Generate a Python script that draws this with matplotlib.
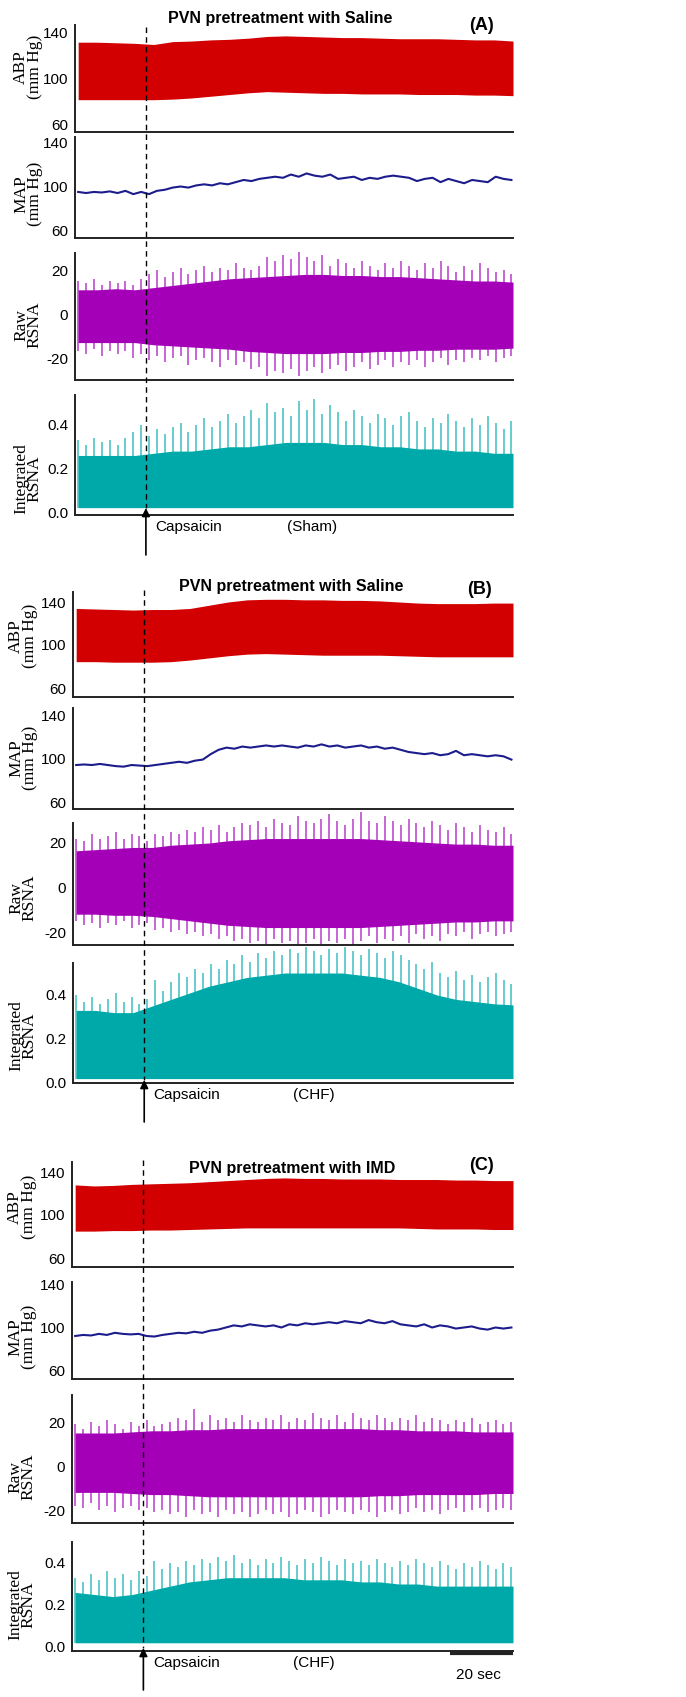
import numpy as np
import matplotlib
matplotlib.use("Agg")
import matplotlib.pyplot as plt
from matplotlib.lines import Line2D
from matplotlib.patches import FancyArrowPatch
from matplotlib.transforms import blended_transform_factory

W, H = 686, 1697

# time grids in seconds
t_coarse = np.arange(0, 139, 6)
t_fine = np.arange(0, 138, 2.5)
T_CAPS = 21.5

# ---------------- panel A (Sham, saline) ----------------
a_abp_hi = [132, 132, 131.5, 131, 130, 132.5, 133, 134, 134.5, 135.5, 137, 137.5,
            137, 136.5, 136, 136, 135.5, 135, 135, 135, 134.5, 134, 134, 133]
a_abp_lo = [82, 82, 82, 82, 82, 82.5, 83.5, 85, 86.5, 88, 89, 88.5,
            88, 87.5, 87.5, 87, 87, 87, 86.5, 86.5, 86.5, 86, 86, 85.5]
a_map = [95, 94, 95, 94.5, 95.5, 94, 96, 93, 95, 93, 96, 97, 99, 100, 99, 101,
         102, 101, 103, 102, 104, 106, 105, 107, 108, 109, 108, 111, 109, 112, 110, 109,
         111, 107, 108, 109, 106, 108, 107, 109, 110, 109, 108, 105, 107, 108, 104, 107,
         105, 103, 106, 105, 104, 109, 107, 106]
a_raw_core_hi = [11, 11, 11.5, 11, 12, 13, 14, 15, 16, 16.5, 17, 17.5,
                 18, 18, 17.5, 17.5, 17, 17, 16.5, 16, 15.5, 15, 15, 14.5]
a_raw_core_lo = [-13, -13, -13, -13, -14, -14.5, -15, -15.5, -16, -17, -17.5, -18,
                 -18, -18, -17.5, -17.5, -17, -17, -16.5, -16.5, -16, -16, -16, -15.5]
a_raw_spk_hi = [15, 14, 16, 13, 15, 14, 15, 13, 16, 18, 20, 17, 19, 21, 18, 20,
                22, 19, 21, 20, 23, 21, 20, 22, 26, 24, 27, 25, 28, 26, 24, 27,
                22, 25, 23, 21, 24, 22, 20, 23, 21, 24, 22, 20, 23, 21, 24, 22,
                19, 22, 20, 23, 21, 19, 20, 18]
a_raw_spk_lo = [-17, -18, -16, -19, -17, -18, -17, -20, -18, -21, -19, -22, -20, -19, -23, -21,
                -20, -22, -24, -21, -23, -22, -25, -24, -28, -26, -27, -25, -28, -26, -24, -27,
                -25, -23, -26, -24, -22, -25, -23, -21, -24, -22, -23, -21, -24, -22, -20, -23,
                -21, -22, -20, -21, -19, -22, -20, -19]
a_int_core = [0.26, 0.26, 0.26, 0.26, 0.27, 0.28, 0.28, 0.29, 0.30, 0.30, 0.31, 0.32,
              0.32, 0.32, 0.31, 0.31, 0.30, 0.30, 0.29, 0.29, 0.28, 0.28, 0.27, 0.27]
a_int_spk = [0.33, 0.31, 0.34, 0.32, 0.33, 0.31, 0.34, 0.37, 0.40, 0.35, 0.38, 0.36, 0.39, 0.41,
             0.37, 0.40, 0.43, 0.39, 0.42, 0.45, 0.41, 0.44, 0.47, 0.43, 0.50, 0.46, 0.48, 0.44,
             0.51, 0.47, 0.52, 0.45, 0.49, 0.46, 0.42, 0.47, 0.44, 0.41, 0.45, 0.43, 0.40, 0.44,
             0.46, 0.42, 0.39, 0.43, 0.41, 0.45, 0.42, 0.39, 0.43, 0.40, 0.44, 0.41, 0.38, 0.42]

# ---------------- panel B (CHF, saline) ----------------
b_abp_hi = [134, 133.5, 133, 132.5, 133, 133, 134, 137, 140, 142, 142.5, 142.5,
            142, 142, 141.5, 141.5, 141, 140, 139, 138.5, 138.5, 138.5, 139, 139]
b_abp_lo = [84.5, 84.5, 84, 84, 84, 84.5, 86, 88, 90, 91.5, 92, 91.5,
            91, 90.5, 90.5, 90.5, 90.5, 90, 89.5, 89, 89, 89, 89, 89]
b_map = [94, 94.5, 94, 95, 94, 93, 92.5, 94, 93.5, 93, 94, 95, 96, 97, 96, 98,
         99, 104, 108, 110, 109, 111, 110, 111, 112, 111, 112, 111, 110, 112, 111, 113,
         111, 112, 110, 111, 112, 110, 111, 109, 110, 108, 106, 105, 104, 105, 103, 104,
         107, 103, 104, 103, 102, 103, 102, 99]
b_raw_core_hi = [16.5, 17, 17.5, 18, 18, 19, 19.5, 20, 21, 21.5, 22, 22,
                 22, 22, 22, 22, 21.5, 21, 20.5, 20, 19.5, 19.5, 19, 19]
b_raw_core_lo = [-12, -12, -12.5, -12.5, -13, -14, -15, -16, -17, -17.5, -18, -18,
                 -18, -18, -18, -18, -17.5, -17, -16.5, -16, -15.5, -15.5, -15, -15]
b_raw_spk_hi = [22, 21, 24, 22, 23, 25, 22, 24, 23, 21, 24, 23, 25, 24, 26, 25,
                27, 26, 28, 25, 27, 29, 28, 30, 27, 31, 29, 28, 32, 30, 29, 31,
                33, 30, 28, 31, 34, 30, 29, 32, 30, 28, 31, 29, 27, 30, 28, 26,
                29, 27, 25, 28, 26, 25, 27, 24]
b_raw_spk_lo = [-15, -17, -16, -18, -16, -17, -15, -18, -17, -16, -19, -18, -20, -19, -21, -20,
                -22, -21, -23, -22, -24, -23, -25, -24, -26, -23, -25, -24, -26, -25, -23, -26,
                -24, -25, -23, -26, -24, -22, -25, -23, -24, -22, -25, -21, -23, -22, -24, -21,
                -22, -20, -23, -21, -20, -22, -21, -20]
b_int_core = [0.33, 0.33, 0.32, 0.32, 0.35, 0.38, 0.41, 0.44, 0.46, 0.48, 0.49, 0.50,
              0.50, 0.50, 0.50, 0.49, 0.48, 0.46, 0.43, 0.40, 0.38, 0.37, 0.36, 0.355]
b_int_spk = [0.40, 0.37, 0.39, 0.36, 0.38, 0.41, 0.37, 0.39, 0.36, 0.38, 0.47, 0.42, 0.46, 0.50,
             0.48, 0.52, 0.50, 0.54, 0.52, 0.56, 0.54, 0.58, 0.55, 0.59, 0.57, 0.60, 0.58, 0.61,
             0.59, 0.62, 0.60, 0.58, 0.61, 0.59, 0.62, 0.60, 0.58, 0.61, 0.59, 0.57, 0.60, 0.58,
             0.56, 0.54, 0.52, 0.55, 0.50, 0.48, 0.51, 0.47, 0.49, 0.46, 0.48, 0.50, 0.47, 0.45]

# ---------------- panel C (CHF, IMD) ----------------
c_abp_hi = [128, 127, 127.5, 128.5, 129, 129.5, 130, 131, 132, 133, 134, 134.5,
            134, 134, 133.5, 133.5, 133.5, 133, 133, 133, 132.5, 132.5, 132, 132]
c_abp_lo = [85, 85, 85.5, 85.5, 86, 86, 86.5, 87, 87.5, 88, 88, 88,
            88, 88, 88, 88, 88, 88, 87.5, 87, 87, 87, 86.5, 86.5]
c_map = [92, 93, 92.5, 94, 93, 95, 94, 93.5, 94, 92, 91.5, 93, 94, 95, 94.5, 96,
         95, 97, 98, 100, 102, 101, 103, 102, 101, 102, 100, 103, 102, 104, 103, 104,
         105, 104, 106, 105, 104, 107, 105, 104, 106, 103, 102, 101, 103, 100, 102, 101,
         99, 100, 101, 99, 98, 100, 99, 100]
c_raw_core_hi = [15, 15, 15, 15.5, 16, 16, 16.5, 16.5, 17, 17, 17, 17,
                 17, 17, 17, 17, 16.5, 16.5, 16, 16, 16, 15.5, 15.5, 15.5]
c_raw_core_lo = [-12, -12, -12, -12.5, -13, -13, -13.5, -14, -14, -14, -14, -14,
                 -14, -14, -14, -14, -13.5, -13.5, -13, -13, -13, -13, -12.5, -12.5]
c_raw_spk_hi = [19, 17, 20, 18, 21, 19, 17, 20, 18, 21, 18, 19, 20, 22, 21, 26,
                20, 23, 21, 22, 20, 23, 21, 20, 22, 21, 23, 20, 22, 21, 24, 22,
                21, 23, 20, 24, 22, 21, 23, 22, 20, 22, 21, 23, 20, 22, 21, 19,
                21, 20, 22, 19, 20, 21, 19, 20]
c_raw_spk_lo = [-18, -19, -17, -20, -18, -21, -19, -18, -20, -19, -21, -20, -22, -21, -23, -20,
                -22, -21, -23, -20, -22, -21, -23, -22, -20, -22, -21, -23, -22, -20, -21, -23,
                -22, -20, -21, -22, -20, -21, -23, -21, -20, -22, -21, -19, -21, -20, -22, -20,
                -19, -21, -20, -19, -21, -20, -19, -20]
c_int_core = [0.26, 0.25, 0.24, 0.25, 0.27, 0.29, 0.31, 0.32, 0.33, 0.33, 0.33, 0.33,
              0.32, 0.32, 0.32, 0.31, 0.31, 0.30, 0.30, 0.29, 0.29, 0.29, 0.29, 0.29]
c_int_spk = [0.33, 0.31, 0.35, 0.32, 0.36, 0.33, 0.35, 0.32, 0.36, 0.34, 0.41, 0.37, 0.40, 0.38,
             0.41, 0.39, 0.42, 0.40, 0.43, 0.41, 0.44, 0.40, 0.42, 0.39, 0.42, 0.40, 0.43, 0.41,
             0.39, 0.42, 0.40, 0.43, 0.41, 0.39, 0.42, 0.40, 0.41, 0.39, 0.42, 0.40, 0.38, 0.41,
             0.39, 0.42, 0.40, 0.38, 0.41, 0.39, 0.37, 0.40, 0.38, 0.41, 0.39, 0.37, 0.40, 0.38]

titles = ["PVN pretreatment with Saline", "PVN pretreatment with Saline", "PVN pretreatment with IMD"]
letters = ["(A)", "(B)", "(C)"]
groups = ["(Sham)", "(CHF)", "(CHF)"]

RED = "#d20000"
NAVY = "#1c1c8c"
PURPLE = "#a400b8"
PURPLE_LT = "#c35ad2"
TEAL = "#00a9a9"
TEAL_LT = "#5cc9c9"

SANS = ["Liberation Sans", "DejaVu Sans"]
SERIF = ["Liberation Serif", "DejaVu Serif"]


def fx(p):
    return p / W


def fy(p):
    return 1 - p / H


def trace_axes(fig, left, top, bot, v1, p1, v2, p2, ticks, ticklabels):
    ax = fig.add_axes([fx(left), fy(bot), fx(513 - left), (bot - top) / H])
    scale = (p1 - p2) / (v2 - v1)
    ax.set_ylim(v1 - (bot - p1) / scale, v1 + (p1 - top) / scale)
    ax.set_xlim(-1, 138)
    for s in ["top", "right"]:
        ax.spines[s].set_visible(False)
    for s in ["left", "bottom"]:
        ax.spines[s].set_linewidth(1.4)
        ax.spines[s].set_color("#222222")
        ax.spines[s].set_zorder(5)
    ax.set_xticks([])
    ax.set_yticks(ticks)
    ax.set_yticklabels(ticklabels, family=SANS, fontsize=11)
    ax.tick_params(axis="y", length=0, pad=5)
    ax.patch.set_alpha(0)
    return ax


# pixel layout of each panel
layout = [
    dict(left=75, rows=[(25, 132, 60, 125, 140, 33), (137, 238, 60, 230, 140, 143),
                        (253, 380, -20, 358, 20, 270), (395, 515, 0.0, 512, 0.4, 425)],
         lab_x=28, lab_y=[67, 194, 325, 479], title=(280, 18), letter=(482, 25),
         dash=(27, 508), arrow_tail=555, cap_y=527, cap_x=155, grp_x=287),
    dict(left=73, rows=[(592, 697, 60, 688, 140, 602), (708, 809, 60, 802, 140, 715),
                        (823, 945, -20, 932, 20, 843), (963, 1083, 0.0, 1083, 0.4, 995)],
         lab_x=23, lab_y=[636, 758, 898, 1036], title=(291, 587), letter=(480, 590),
         dash=(590, 1080), arrow_tail=1122, cap_y=1095, cap_x=153, grp_x=293),
    dict(left=72, rows=[(1162, 1267, 60, 1258, 140, 1172), (1282, 1379, 60, 1370, 140, 1285),
                        (1395, 1523, -20, 1510, 20, 1422), (1542, 1651, 0.0, 1647, 0.4, 1563)],
         lab_x=22, lab_y=[1207, 1337, 1477, 1605], title=(292, 1168), letter=(482, 1165),
         dash=(1160, 1648), arrow_tail=1690, cap_y=1663, cap_x=153, grp_x=293),
]

data = [
    (a_abp_hi, a_abp_lo, a_map, a_raw_core_hi, a_raw_core_lo, a_raw_spk_hi, a_raw_spk_lo, a_int_core, a_int_spk),
    (b_abp_hi, b_abp_lo, b_map, b_raw_core_hi, b_raw_core_lo, b_raw_spk_hi, b_raw_spk_lo, b_int_core, b_int_spk),
    (c_abp_hi, c_abp_lo, c_map, c_raw_core_hi, c_raw_core_lo, c_raw_spk_hi, c_raw_spk_lo, c_int_core, c_int_spk),
]

ylabels = ["ABP\n(mm Hg)", "MAP\n(mm Hg)", "Raw\nRSNA", "Integrated\nRSNA"]
tick_sets = [([60, 100, 140], ["60", "100", "140"]),
             ([60, 100, 140], ["60", "100", "140"]),
             ([-20, 0, 20], ["-20", "0", "20"]),
             ([0.0, 0.2, 0.4], ["0.0", "0.2", "0.4"])]

fig = plt.figure(figsize=(W / 100, H / 100), dpi=100)

for i, (lay, d) in enumerate(zip(layout, data)):
    abp_hi, abp_lo, mp, rc_hi, rc_lo, rs_hi, rs_lo, ic, isp = d
    axes = []
    for r, row in enumerate(lay["rows"]):
        ax = trace_axes(fig, lay["left"], *row, *tick_sets[r])
        axes.append(ax)
        fig.text(fx(lay["lab_x"]), fy(lay["lab_y"][r]), ylabels[r], rotation=90,
                 ha="center", va="center", family=SERIF, fontsize=12.5, linespacing=0.8)
    ax_abp, ax_map, ax_raw, ax_int = axes

    ax_abp.fill_between(t_coarse, abp_lo, abp_hi, color=RED, lw=0)
    ax_map.plot(t_fine, mp, color=NAVY, lw=1.5)

    ax_raw.vlines(t_fine, 0, rs_hi, color=PURPLE_LT, lw=1.3, clip_on=False, zorder=2)
    ax_raw.vlines(t_fine, rs_lo, 0, color=PURPLE_LT, lw=1.3, clip_on=False, zorder=2)
    ax_raw.fill_between(t_coarse, rc_lo, rc_hi, color=PURPLE, lw=0, zorder=3)

    ax_int.vlines(t_fine, 0.02, isp, color=TEAL_LT, lw=1.3, clip_on=False, zorder=2)
    ax_int.fill_between(t_coarse, 0.02, ic, color=TEAL, lw=0, zorder=3)

    # titles
    fig.text(fx(lay["title"][0]), fy(lay["title"][1]), titles[i], ha="center", va="center",
             family=SANS, fontsize=11.5, fontweight="bold")
    fig.text(fx(lay["letter"][0]), fy(lay["letter"][1]), letters[i], ha="center", va="center",
             family=SANS, fontsize=13, fontweight="bold")

    # capsaicin marker
    trans = blended_transform_factory(ax_int.transData, fig.transFigure)
    fig.add_artist(Line2D([T_CAPS, T_CAPS], [fy(lay["dash"][0]), fy(lay["dash"][1])],
                          transform=trans, color="black", lw=1.0, ls=(0, (4, 3))))
    fig.add_artist(FancyArrowPatch((T_CAPS, fy(lay["arrow_tail"])), (T_CAPS, fy(lay["dash"][1])),
                                   transform=trans, arrowstyle="-|>", mutation_scale=12,
                                   color="black", lw=1.2, shrinkA=0, shrinkB=0))
    fig.text(fx(lay["cap_x"]), fy(lay["cap_y"]), "Capsaicin", ha="left", va="center",
             family=SANS, fontsize=11)
    fig.text(fx(lay["grp_x"]), fy(lay["cap_y"]), groups[i], ha="left", va="center",
             family=SANS, fontsize=11)

    if i == 2:
        fig.add_artist(Line2D([138 - 20, 138], [fy(1653), fy(1653)], transform=trans,
                              color="#222222", lw=3, solid_capstyle="butt"))
        fig.text(fx(478), fy(1675), "20 sec", ha="center", va="center",
                 family=SANS, fontsize=11)

fig.savefig("out.png", dpi=100)
